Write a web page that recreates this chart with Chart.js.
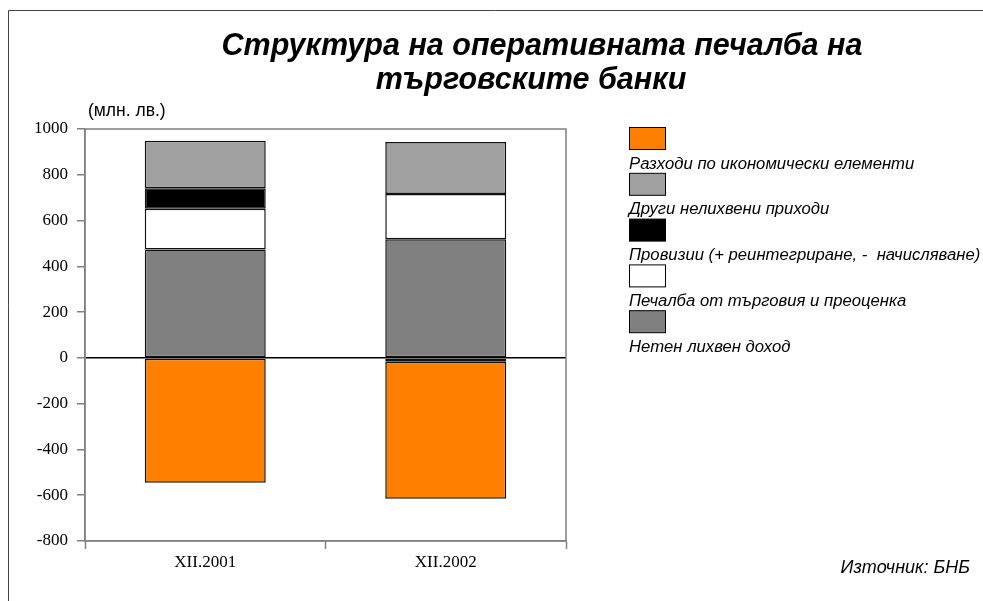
<!DOCTYPE html>
<html>
<head>
<meta charset="utf-8">
<script src="https://cdn.jsdelivr.net/npm/chart.js@4/dist/chart.umd.min.js"></script>
<style>
  body { margin: 0; background: #fff; }
  canvas { display: block; }
</style>
</head>
<body>
<canvas id="chart" width="983" height="601"></canvas>
<script>
// data (млн. лв.)
const categories = ['XII.2001', 'XII.2002'];
const netInterest = [473, 518];
const tradingProfit = [179, 198];
const provisions = [89, -17];
const otherNonInterest = [208, 227];
const expenses = [-545, -598];

const yTicks = [-800, -600, -400, -200, 0, 200, 400, 600, 800, 1000];

const titleLines = ['Структура на оперативната печалба на', 'търговските банки'];
const unitLabel = '(млн. лв.)';
const sourceLabel = 'Източник: БНБ';

const seriesNames = [
  'Нетен лихвен доход',
  'Печалба от търговия и преоценка',
  'Провизии (+ реинтегриране, -  начисляване)',
  'Други нелихвени приходи',
  'Разходи по икономически елементи'
];
const seriesColors = ['#808080', '#ffffff', '#000000', '#a0a0a0', '#ff8000'];
const seriesValues = [netInterest, tradingProfit, provisions, otherNonInterest, expenses];

const datasets = seriesValues.map((vals, i) => {
  return {
    label: seriesNames[i],
    data: vals,
    backgroundColor: seriesColors[i],
    borderColor: '#111',
    borderWidth: 1.5,
    borderSkipped: false,
    categoryPercentage: 1,
    barPercentage: 0.503
  };
});

// frame, title, unit, legend and source
const decorations = {
  id: 'decorations',
  beforeDraw(chart) {
    const ctx = chart.ctx;
    ctx.save();
    ctx.fillStyle = '#fff';
    ctx.fillRect(0, 0, chart.width, chart.height);
    ctx.strokeStyle = '#444';
    ctx.lineWidth = 1;
    ctx.beginPath();
    ctx.moveTo(8.5, 601);
    ctx.lineTo(8.5, 10.5);
    ctx.lineTo(983, 10.5);
    ctx.stroke();
    ctx.restore();
  },
  afterDraw(chart) {
    const ctx = chart.ctx;
    const a = chart.chartArea;
    ctx.save();
    // plot box
    ctx.strokeStyle = '#808080';
    ctx.lineWidth = 1.5;
    ctx.strokeRect(a.left, a.top, a.right - a.left, a.bottom - a.top);

    ctx.fillStyle = '#000';
    ctx.textAlign = 'center';
    ctx.textBaseline = 'alphabetic';
    ctx.font = 'italic bold 30.5px "Liberation Sans", Arial, sans-serif';
    ctx.fillText(titleLines[0], 542, 55);
    ctx.fillText(titleLines[1], 531, 89);

    ctx.textAlign = 'left';
    ctx.font = '17.5px "Liberation Sans", Arial, sans-serif';
    ctx.fillText(unitLabel, 88, 116);

    // legend, reversed, swatch above its text
    ctx.font = 'italic 16.7px "Liberation Sans", Arial, sans-serif';
    chart.data.datasets.slice().reverse().forEach((ds, i) => {
      const top = 127.5 + i * 45.8;
      ctx.fillStyle = ds.backgroundColor;
      ctx.fillRect(629.5, top, 36, 22);
      ctx.strokeStyle = '#000';
      ctx.lineWidth = 1;
      ctx.strokeRect(629.5, top, 36, 22);
      ctx.fillStyle = '#000';
      ctx.fillText(ds.label, 629, top + 41);
    });

    ctx.textAlign = 'right';
    ctx.font = 'italic 18px "Liberation Sans", Arial, sans-serif';
    ctx.fillText(sourceLabel, 970, 573);
    ctx.restore();
  }
};

new Chart(document.getElementById('chart'), {
  type: 'bar',
  data: { labels: categories, datasets: datasets },
  options: {
    responsive: false,
    animation: false,
    layout: { padding: { top: 129, right: 417, bottom: 0, left: 0 } },
    plugins: {
      legend: { display: false },
      title: { display: false },
      tooltip: { enabled: false }
    },
    scales: {
      x: {
        stacked: true,
        afterFit: (scale) => { scale.height = 60; },
        grid: {
          offset: true,
          drawOnChartArea: false,
          tickLength: 8,
          tickColor: '#808080',
          tickWidth: 1.5
        },
        border: { color: '#808080', width: 1.5 },
        ticks: {
          color: '#000',
          padding: 3,
          font: { family: '"Liberation Serif", "Times New Roman", serif', size: 17 }
        }
      },
      y: {
        stacked: true,
        min: -800,
        max: 1000,
        afterFit: (scale) => { scale.width = 85; },
        afterBuildTicks: (scale) => {
          scale.ticks = yTicks.map((v) => ({ value: v }));
        },
        grid: {
          color: (c) => (c.tick && c.tick.value === 0 ? '#000' : 'rgba(0,0,0,0)'),
          lineWidth: 1.5,
          tickLength: 8,
          tickColor: '#808080',
          tickWidth: 1.5
        },
        border: { color: '#808080', width: 1.5 },
        ticks: {
          color: '#000',
          padding: 9,
          callback: (v) => String(v),
          font: { family: '"Liberation Serif", "Times New Roman", serif', size: 17 }
        }
      }
    }
  },
  plugins: [decorations]
});
</script>
</body>
</html>
